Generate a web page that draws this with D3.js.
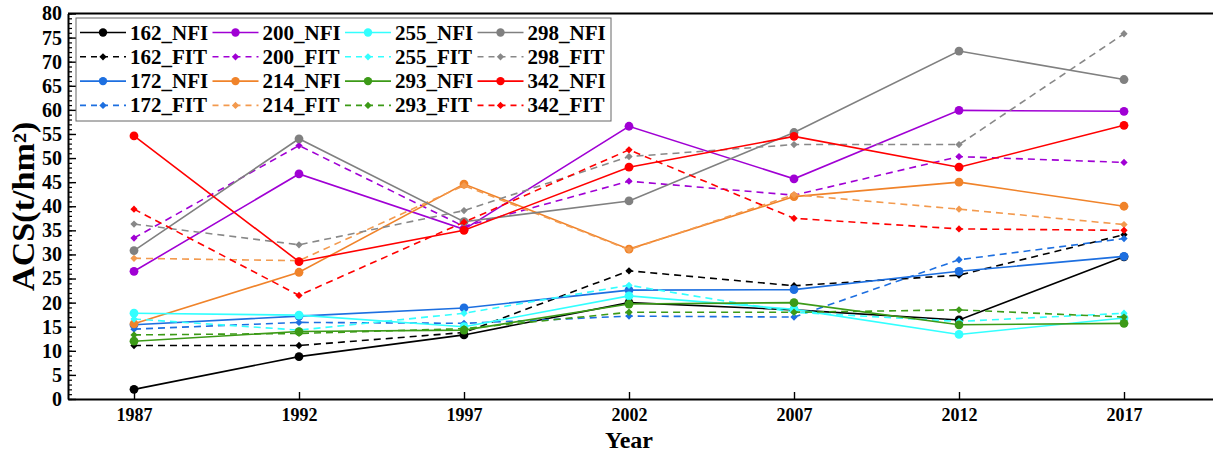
<!DOCTYPE html>
<html>
<head>
<meta charset="utf-8">
<script src="https://cdn.jsdelivr.net/npm/d3@7"></script>
<style>
  html, body { margin: 0; padding: 0; background: #fff; }
  svg { display: block; }
  text { font-family: "Liberation Serif", "Times New Roman", serif; font-weight: bold; fill: #000; }
</style>
</head>
<body>
<svg id="chart" width="1213" height="455"></svg>
<script>
// Survey years
const years = [1987, 1992, 1997, 2002, 2007, 2012, 2017];

// Aboveground carbon stock per plot (t/hm²): NFI observations and fitted values
const s162_NFI = [2.0, 8.8, 13.3, 20.0, 18.5, 16.4, 29.5];
const s162_FIT = [11.1, 11.1, 13.8, 26.6, 23.5, 25.7, 34.1];
const s172_NFI = [15.4, 17.2, 18.9, 22.6, 22.7, 26.5, 29.6];
const s172_FIT = [14.5, 15.9, 15.7, 17.2, 17.0, 28.9, 33.3];
const s200_NFI = [26.5, 46.7, 35.2, 56.6, 45.7, 59.9, 59.7];
const s200_FIT = [33.4, 52.6, 35.8, 45.2, 42.3, 50.3, 49.1];
const s214_NFI = [15.6, 26.3, 44.6, 31.1, 42.0, 45.0, 40.0];
const s214_FIT = [29.2, 28.7, 44.3, 31.0, 42.4, 39.4, 36.2];
const s255_NFI = [17.8, 17.4, 15.0, 21.4, 18.6, 13.4, 16.8];
const s255_FIT = [16.6, 14.3, 17.8, 23.6, 18.0, 16.1, 17.8];
const s293_NFI = [12.0, 14.0, 14.3, 19.7, 20.0, 15.4, 15.7];
const s293_FIT = [13.3, 13.6, 14.6, 18.0, 18.0, 18.5, 17.0];
const s298_NFI = [30.8, 54.0, 36.8, 41.1, 55.3, 72.2, 66.3];
const s298_FIT = [36.3, 32.0, 39.1, 50.3, 52.8, 52.8, 75.8];
const s342_NFI = [54.6, 28.5, 35.0, 48.1, 54.5, 48.1, 56.8];
const s342_FIT = [39.4, 21.5, 36.7, 51.7, 37.5, 35.3, 35.0];

// Y-axis tick labels
const yTickValues = [0, 5, 10, 15, 20, 25, 30, 35, 40, 45, 50, 55, 60, 65, 70, 75, 80];

// Series table in legend order (column by column)
const series = [
  { name: "162_NFI", values: s162_NFI, color: "#000000", fit: false },
  { name: "162_FIT", values: s162_FIT, color: "#000000", fit: true },
  { name: "172_NFI", values: s172_NFI, color: "#1d6fe0", fit: false },
  { name: "172_FIT", values: s172_FIT, color: "#1d6fe0", fit: true },
  { name: "200_NFI", values: s200_NFI, color: "#a000d4", fit: false },
  { name: "200_FIT", values: s200_FIT, color: "#a000d4", fit: true },
  { name: "214_NFI", values: s214_NFI, color: "#f0832a", fit: false },
  { name: "214_FIT", values: s214_FIT, color: "#f39a4e", fit: true },
  { name: "255_NFI", values: s255_NFI, color: "#33ffff", fit: false },
  { name: "255_FIT", values: s255_FIT, color: "#33ffff", fit: true },
  { name: "293_NFI", values: s293_NFI, color: "#3c9a17", fit: false },
  { name: "293_FIT", values: s293_FIT, color: "#3c9a17", fit: true },
  { name: "298_NFI", values: s298_NFI, color: "#808080", fit: false },
  { name: "298_FIT", values: s298_FIT, color: "#888888", fit: true },
  { name: "342_NFI", values: s342_NFI, color: "#ff0000", fit: false },
  { name: "342_FIT", values: s342_FIT, color: "#ff0000", fit: true }
];

const svg = d3.select("#chart");
const plotLeft = 68, plotTop = 13.5, plotBottom = 399, plotRight = 1223;

const x = d3.scaleLinear().domain([1985, 2020]).range([plotLeft, plotRight]);
const y = d3.scaleLinear().domain([0, 80]).range([plotBottom, plotTop]);

const dash = "7,5";

// Plot frame (top edge)
svg.append("line")
  .attr("x1", plotLeft).attr("x2", plotRight)
  .attr("y1", plotTop).attr("y2", plotTop)
  .attr("stroke", "#000").attr("stroke-width", 2);

// Minor y ticks
svg.append("g")
  .attr("transform", `translate(${plotLeft},0)`)
  .call(d3.axisLeft(y).tickValues(d3.range(0, 81, 1)).tickSizeInner(-4).tickSizeOuter(0).tickFormat(""))
  .call(g => g.select(".domain").remove())
  .call(g => g.selectAll("line").attr("stroke-width", 1.2));

// Major y axis
svg.append("g")
  .attr("transform", `translate(${plotLeft},0)`)
  .call(d3.axisLeft(y).tickValues(yTickValues).tickSizeInner(-8).tickSizeOuter(0).tickPadding(6))
  .call(g => g.select(".domain").attr("stroke-width", 2))
  .call(g => g.selectAll("line").attr("stroke-width", 1.4))
  .call(g => g.selectAll("text")
    .attr("font-size", 20)
    .attr("font-family", "Liberation Serif, serif")
    .attr("font-weight", "bold"));

// X axis
svg.append("g")
  .attr("transform", `translate(0,${plotBottom})`)
  .call(d3.axisBottom(x).tickValues(years).tickFormat(d3.format("d")).tickSizeInner(-7).tickSizeOuter(0).tickPadding(9))
  .call(g => g.select(".domain").attr("stroke-width", 2))
  .call(g => g.selectAll("line").attr("stroke-width", 1.4))
  .call(g => g.selectAll("text")
    .attr("font-size", 18)
    .attr("font-family", "Liberation Serif, serif")
    .attr("font-weight", "bold"));

// Axis titles
svg.append("text")
  .attr("x", 629).attr("y", 448)
  .attr("text-anchor", "middle")
  .attr("font-size", 24)
  .text("Year");

svg.append("text")
  .attr("transform", `translate(34,${(plotTop + plotBottom) / 2}) rotate(-90) scale(1.1,1)`)
  .attr("text-anchor", "middle")
  .attr("font-size", 31)
  .text("ACS(t/hm²)");

const line = d3.line()
  .x((d, i) => x(years[i]))
  .y(d => y(d));

const diamond = d3.symbol().type(d3.symbolDiamond2).size(34);

// Series lines and markers
const sg = svg.append("g");
series.forEach(s => {
  const g = sg.append("g");
  g.append("path")
    .datum(s.values)
    .attr("d", line)
    .attr("fill", "none")
    .attr("stroke", s.color)
    .attr("stroke-width", 1.6)
    .attr("stroke-dasharray", s.fit ? dash : null);
  if (s.fit) {
    g.selectAll("path.m").data(s.values).join("path")
      .attr("class", "m")
      .attr("d", diamond)
      .attr("transform", (d, i) => `translate(${x(years[i])},${y(d)})`)
      .attr("fill", s.color);
  } else {
    g.selectAll("circle").data(s.values).join("circle")
      .attr("cx", (d, i) => x(years[i]))
      .attr("cy", d => y(d))
      .attr("r", 4.4)
      .attr("fill", s.color);
  }
});

// Legend
const lg = svg.append("g");
lg.append("rect")
  .attr("x", 76).attr("y", 18)
  .attr("width", 535).attr("height", 103)
  .attr("fill", "#fff")
  .attr("stroke", "#666").attr("stroke-width", 1);

const colW = 132.5, rowH = 24.3, lx0 = 80, ly0 = 32.5, sampleW = 46;
series.forEach((s, k) => {
  const col = Math.floor(k / 4), row = k % 4;
  const gx = lx0 + col * colW, gy = ly0 + row * rowH;
  const item = lg.append("g").attr("transform", `translate(${gx},${gy})`);
  item.append("line")
    .attr("x1", 0).attr("x2", sampleW)
    .attr("y1", 0).attr("y2", 0)
    .attr("stroke", s.color).attr("stroke-width", 1.6)
    .attr("stroke-dasharray", s.fit ? "6,5" : null);
  if (s.fit) {
    item.append("path").attr("d", diamond).attr("transform", `translate(${sampleW / 2},0)`).attr("fill", s.color);
  } else {
    item.append("circle").attr("cx", sampleW / 2).attr("cy", 0).attr("r", 4.2).attr("fill", s.color);
  }
  item.append("text")
    .attr("x", sampleW + 4).attr("y", 7)
    .attr("font-size", 21)
    .text(s.name);
});
</script>
</body>
</html>
